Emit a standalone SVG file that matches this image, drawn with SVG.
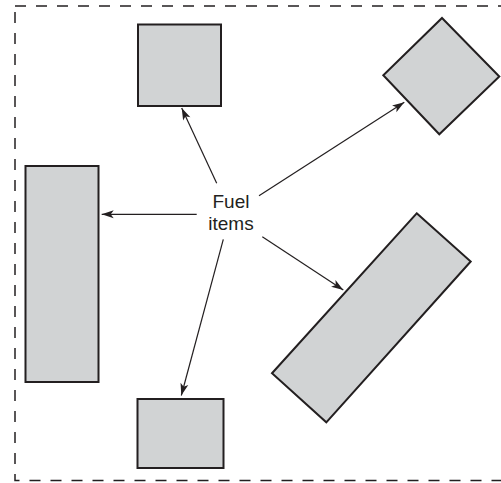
<svg xmlns="http://www.w3.org/2000/svg" width="501" height="483" viewBox="0 0 501 483">
<style>
.item{fill:#d1d3d4;stroke:#231f20;stroke-width:2;stroke-linejoin:miter}
.conn line{stroke:#231f20;stroke-width:1.2}
.border{fill:none;stroke:#231f20;stroke-width:1.5;stroke-dasharray:11 10}
.lbl{font-family:"Liberation Sans",Arial,sans-serif;font-size:19px;fill:#231f20;text-anchor:middle}
</style>
<defs>
<marker id="ah" markerUnits="userSpaceOnUse" markerWidth="14" markerHeight="10" viewBox="0 0 14 10" refX="13" refY="5" orient="auto">
<path d="M1,1 L13,5 L1,9 L4,5 z" fill="#231f20"/>
</marker>
</defs>
<rect class="border" x="15" y="6" width="500" height="474.5"/>
<g id="item-top"><rect class="item" x="138" y="24.5" width="83" height="81.5"/></g>
<g id="item-diamond"><polygon class="item" points="442,18 499.3,76.5 439.3,134.3 383.3,75.3"/></g>
<g id="item-left"><rect class="item" x="25.5" y="166" width="73" height="216"/></g>
<g id="item-bottom"><rect class="item" x="137.5" y="399" width="86" height="69"/></g>
<g id="item-long"><polygon class="item" points="416.7,213.3 470.7,261.5 326.3,422.3 272,373.3"/></g>
<g id="label"><text class="lbl" x="231" y="208">Fuel</text><text class="lbl" x="231" y="230">items</text></g>
<g id="connectors" class="conn">
<line x1="216.7" y1="183.3" x2="181.7" y2="108" marker-end="url(#ah)"/>
<line x1="259" y1="195.7" x2="404.3" y2="102.3" marker-end="url(#ah)"/>
<line x1="196.7" y1="214.3" x2="101.7" y2="214.3" marker-end="url(#ah)"/>
<line x1="223.3" y1="239.3" x2="181.3" y2="395.5" marker-end="url(#ah)"/>
<line x1="262.3" y1="236.7" x2="343.3" y2="290" marker-end="url(#ah)"/>
</g>
</svg>
